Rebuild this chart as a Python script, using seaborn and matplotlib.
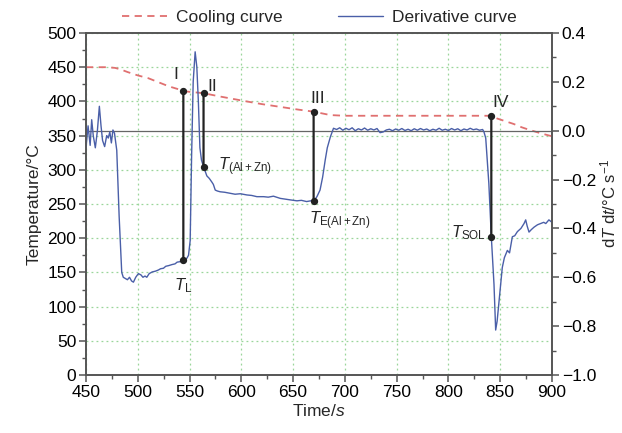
import matplotlib
matplotlib.use('Agg')
import matplotlib.pyplot as plt
import seaborn as sns
import pandas as pd
from matplotlib.patches import ConnectionPatch
from matplotlib.ticker import MultipleLocator

# ---------------- data ----------------
cool_t = [450, 460, 470, 478, 483, 490, 500, 510, 520, 530, 541, 544, 550, 563.5,
          580, 605, 620, 637.6, 655, 669.8, 686, 700, 750, 800, 835, 841.4, 847,
          855, 863, 871, 879, 890, 900]
cool_T = [450, 450, 450, 449, 447, 443, 438, 434, 428, 422, 417, 415, 414, 412,
          407, 400, 396, 392, 388, 385, 380, 379, 379, 379, 379, 379, 375,
          371, 367, 362, 358, 353, 349]

deriv_t = [450, 452, 454, 455.5, 457, 459, 461, 462.9, 464.5, 466, 468, 470, 471.5,
           473, 474.5, 476, 477.5, 479.7, 482, 484.5, 486, 488, 490, 492, 494, 495.8,
           498, 500.6, 503, 505, 507, 508.7, 511, 514, 517, 520, 522, 524.8, 527, 530,
           533, 536, 538, 541, 544, 547.4, 549, 550.6, 552, 553.5, 555.4, 557, 558.5,
           560, 561.5, 563.5, 566.7, 569, 571.5, 573, 574.8, 577, 579.6, 584, 589, 594,
           599, 605.4, 610, 615, 621.5, 626, 631, 637.6, 642, 647, 653.7, 658, 663, 667,
           669.8, 673, 676, 678.5, 681, 683, 686, 689, 692, 695, 698, 701, 704, 707,
           710, 713, 716, 719, 722, 725, 728, 731, 734, 737, 740, 743, 746, 749, 752,
           755, 758, 761, 764, 767, 770, 773, 776, 779, 782, 785, 788, 791, 794, 797,
           800, 803, 806, 809, 812, 815, 818, 821, 824, 827, 830, 833, 834.3, 836, 839,
           841.4, 844, 845.6, 847, 848.8, 852, 854, 856.9, 859, 861.7, 864, 866.6, 870,
           873, 874.6, 876, 877.8, 880, 882.6, 886, 889, 892, 894, 897, 900]
deriv_v = [-0.07, 0.02, -0.06, 0.045, -0.02, -0.07, 0.0, 0.10, 0.02, -0.04, -0.065,
           -0.02, -0.03, -0.005, -0.05, 0.003, -0.01, -0.08, -0.35, -0.58, -0.60,
           -0.605, -0.61, -0.60, -0.615, -0.62, -0.60, -0.585, -0.59, -0.60, -0.595,
           -0.60, -0.585, -0.578, -0.575, -0.57, -0.565, -0.563, -0.555, -0.552,
           -0.548, -0.545, -0.538, -0.536, -0.53, -0.522, -0.51, -0.45, -0.10, 0.20,
           0.323, 0.262, 0.12, -0.07, -0.12, -0.147, -0.185, -0.195, -0.21, -0.22,
           -0.243, -0.247, -0.25, -0.252, -0.256, -0.26, -0.258, -0.263, -0.265,
           -0.27, -0.27, -0.272, -0.268, -0.277, -0.28, -0.283, -0.287, -0.285,
           -0.29, -0.287, -0.289, -0.27, -0.243, -0.19, -0.12, -0.07, -0.025, 0.01,
           0.005, 0.012, 0.002, 0.01, 0.004, 0.012, 0.0, 0.008, 0.003, 0.011, 0.002,
           0.008, 0.003, 0.009, -0.008, -0.005, 0.003, 0.006, 0.0, 0.007, 0.002,
           0.009, 0.001, 0.006, 0.0, 0.008, 0.002, 0.009, 0.003, 0.007, 0.0, 0.006,
           0.002, 0.01, 0.002, 0.006, 0.001, 0.009, 0.003, 0.008, 0.0, 0.007, 0.003,
           0.01, 0.004, 0.007, 0.002, 0.005, -0.005, -0.03, -0.215, -0.434, -0.63,
           -0.816, -0.78, -0.70, -0.56, -0.52, -0.49, -0.50, -0.434, -0.43, -0.413,
           -0.40, -0.38, -0.365, -0.39, -0.415, -0.405, -0.395, -0.385, -0.38,
           -0.375, -0.38, -0.365, -0.375]

event_t = [544, 563.5, 669.8, 841.4]
event_T = [415, 412, 385, 379]
event_v = [-0.53, -0.147, -0.289, -0.434]
event_roman = ['I', 'II', 'III', 'IV']
event_names = [r'$T_{\mathrm{L}}$', r'$T_{(\mathrm{Al+Zn})}$',
               r'$T_{\mathrm{E(Al+Zn)}}$', r'$T_{\mathrm{SOL}}$']

x_ticks = list(range(450, 901, 50))
left_ticks = list(range(0, 501, 50))
right_ticks = [-1.0, -0.8, -0.6, -0.4, -0.2, 0.0, 0.2, 0.4]

# ---------------- style ----------------
sns.set_theme(style='ticks')
plt.rcParams['font.family'] = ['Liberation Sans', 'DejaVu Sans']
plt.rcParams['mathtext.fontset'] = 'custom'
plt.rcParams['mathtext.rm'] = 'Liberation Sans'
plt.rcParams['mathtext.it'] = 'Liberation Sans:italic'
plt.rcParams['mathtext.bf'] = 'Liberation Sans:bold'

SPINE = '#555555'
RED = '#e07070'
BLUE = '#4a5fa8'
GRID = '#9ad69a'

fig = plt.figure(figsize=(6.22, 4.33), dpi=100)
ax = fig.add_axes([86 / 622, 1 - 375 / 433, 466 / 622, 342 / 433])
ax2 = ax.twinx()

cool_df = pd.DataFrame({'t': cool_t, 'T': cool_T})
deriv_df = pd.DataFrame({'t': deriv_t, 'v': deriv_v})

sns.lineplot(data=cool_df, x='t', y='T', ax=ax, color=RED, lw=1.3,
             dashes=False, zorder=3)
cool_line = ax.lines[-1]
cool_line.set_dashes((4, 3))

sns.lineplot(data=deriv_df, x='t', y='v', ax=ax2, color=BLUE, lw=1.0, zorder=2)
deriv_line = ax2.lines[-1]

ax2.axhline(0, color='#666666', lw=0.9, zorder=1)

ax.set_xlim(450, 900)
ax.set_ylim(0, 500)
ax2.set_ylim(-1.0, 0.4)

ax.set_xticks(x_ticks)
ax.set_yticks(left_ticks)
ax2.set_yticks(right_ticks)
ax2.set_yticklabels([f'{v:.1f}'.replace('-', '\u2212') for v in right_ticks])
ax.xaxis.set_minor_locator(MultipleLocator(25))
ax.yaxis.set_minor_locator(MultipleLocator(25))
ax2.yaxis.set_minor_locator(MultipleLocator(0.1))

ax.grid(True, which='major', color=GRID, linestyle=(0, (1.5, 2.5)), lw=0.9)
ax.set_axisbelow(True)

for a in (ax, ax2):
    for s in a.spines.values():
        s.set_color(SPINE)
        s.set_linewidth(1.2)
        s.set_visible(True)
    a.tick_params(which='major', length=5, width=1.1, color=SPINE,
                  labelsize=12.5, labelcolor='black', pad=2)
    a.tick_params(which='minor', length=3, width=1.0, color=SPINE)

ax.set_xlabel('Time/$\\mathit{s}$', fontsize=12.5, labelpad=2)
ax.set_ylabel('Temperature/°C', fontsize=12.5, labelpad=4)
ax2.set_ylabel('d$\\mathit{T}$ d$\\mathit{t}$/°C s$^{-1}$', fontsize=12, labelpad=2)

# events: connectors between the two curves
for t, T, v in zip(event_t, event_T, event_v):
    con = ConnectionPatch(xyA=(t, T), coordsA=ax.transData,
                          xyB=(t, v), coordsB=ax2.transData,
                          color='#222222', lw=1.6, zorder=5)
    ax2.add_artist(con)
ax2.scatter(event_t, event_v, s=18, color='#222222', zorder=6)
ax.scatter(event_t, event_T, s=18, color='#222222', zorder=6)

roman_off = [(-8, 17), (9, 7), (4, 13), (9, 13)]
for t, T, lab, off in zip(event_t, event_T, event_roman, roman_off):
    ax.annotate(lab, (t, T), xytext=off, textcoords='offset pixels',
                ha='center', va='center', fontsize=12.5, zorder=7)

name_cfg = [((0, -25), 'center', 'center'),
            ((14, 0), 'left', 'center'),
            ((-5, -19), 'left', 'center'),
            ((-5, 4), 'right', 'center')]
for t, v, lab, (off, ha, va) in zip(event_t, event_v, event_names, name_cfg):
    ax2.annotate(lab, (t, v), xytext=off, textcoords='offset pixels',
                 ha=ha, va=va, fontsize=12, zorder=7)

leg = ax2.legend([cool_line, deriv_line], ['Cooling curve', 'Derivative curve'],
                 loc='center', bbox_to_anchor=(0.5, 1.045), ncol=2, frameon=False,
                 fontsize=12.5, handlelength=2.6, handletextpad=0.5,
                 columnspacing=3.2, borderpad=0, borderaxespad=0)

fig.savefig('out.png', dpi=100)
